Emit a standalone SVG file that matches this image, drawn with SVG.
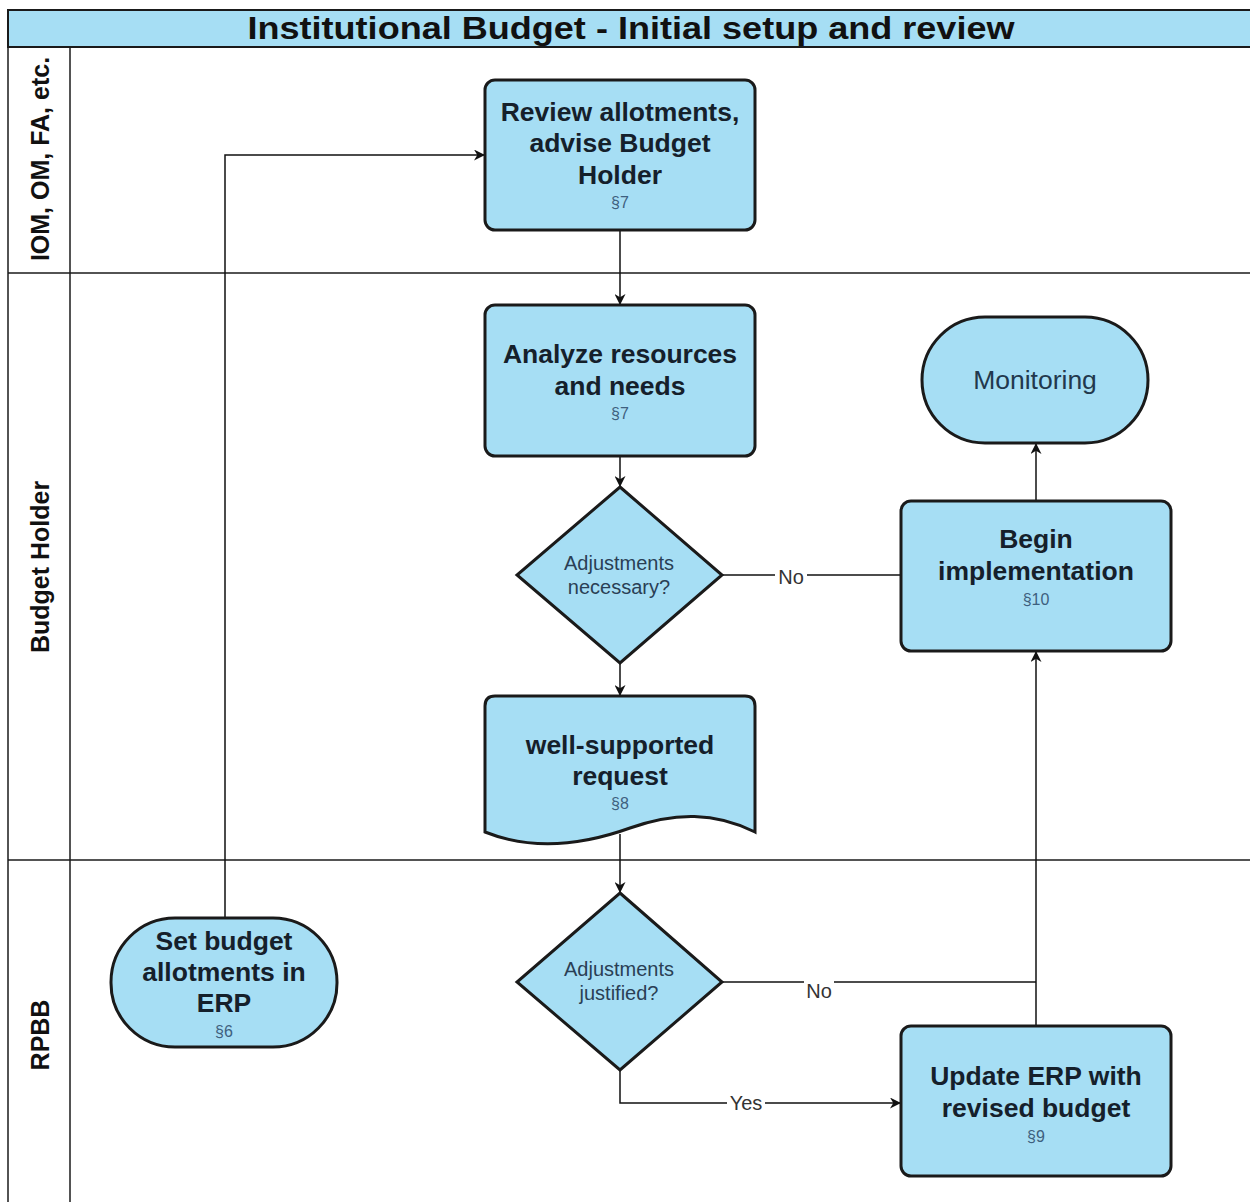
<svg xmlns="http://www.w3.org/2000/svg" width="1250" height="1202" viewBox="0 0 1250 1202">
<defs>
<style>
.node{fill:#a6def4;stroke:#1a1a1a;stroke-width:3}
.lane{fill:none;stroke:#1a1a1a;stroke-width:1.5}
.t{font-family:"Liberation Sans",Arial,sans-serif;font-size:26.5px;font-weight:bold;fill:#15202b;text-anchor:middle}
.n{font-family:"Liberation Sans",Arial,sans-serif;font-size:20px;fill:#2a3f55;text-anchor:middle}
.s{font-family:"Liberation Sans",Arial,sans-serif;font-size:16px;fill:#3e607e;text-anchor:middle}
.lbl{font-family:"Liberation Sans",Arial,sans-serif;font-size:20px;fill:#333;text-anchor:middle}
.ln{font-family:"Liberation Sans",Arial,sans-serif;font-size:25px;font-weight:bold;fill:#111;text-anchor:middle}
.c{fill:none;stroke:#111;stroke-width:1.5}
</style>
<marker id="arr" viewBox="0 0 10 10" refX="10" refY="5" markerWidth="11" markerHeight="11" orient="auto" markerUnits="userSpaceOnUse">
<path d="M0,0 L10,5 L0,10 L3,5 Z" fill="#111"/>
</marker>
</defs>
<rect width="1250" height="1202" fill="#ffffff"/>
<g id="pool">
<rect x="8" y="10" width="1250" height="37" fill="#a6def4" stroke="#1a1a1a" stroke-width="2"/>
<text x="631" y="39" font-family="'Liberation Sans',Arial,sans-serif" font-size="32" font-weight="bold" fill="#111" text-anchor="middle" textLength="767" lengthAdjust="spacingAndGlyphs">Institutional Budget - Initial setup and review</text>
<line class="lane" x1="8" y1="47" x2="8" y2="1202"/>
<line class="lane" x1="70" y1="47" x2="70" y2="1202"/>
<line class="lane" x1="8" y1="273" x2="1250" y2="273"/>
<line class="lane" x1="8" y1="860" x2="1250" y2="860"/>
<text class="ln" transform="translate(49,159) rotate(-90)">IOM, OM, FA, etc.</text>
<text class="ln" transform="translate(49,567) rotate(-90)">Budget Holder</text>
<text class="ln" transform="translate(49,1035) rotate(-90)">RPBB</text>
</g>
<g id="connectors">
<polyline class="c" points="225,918 225,155 485,155" marker-end="url(#arr)"/>
<line class="c" x1="620" y1="230" x2="620" y2="305" marker-end="url(#arr)"/>
<line class="c" x1="620" y1="456" x2="620" y2="487" marker-end="url(#arr)"/>
<line class="c" x1="722" y1="575" x2="901" y2="575"/>
<rect x="775" y="565" width="32" height="22" fill="#fff"/>
<text class="lbl" x="791" y="584">No</text>
<line class="c" x1="620" y1="663" x2="620" y2="696" marker-end="url(#arr)"/>
<line class="c" x1="620" y1="834" x2="620" y2="893" marker-end="url(#arr)"/>
<polyline class="c" points="722,982 1036,982"/>
<rect x="804" y="980" width="30" height="20" fill="#fff"/>
<text class="lbl" x="819" y="998">No</text>
<line class="c" x1="1036" y1="1026" x2="1036" y2="651" marker-end="url(#arr)"/>
<polyline class="c" points="620,1070 620,1103 901,1103" marker-end="url(#arr)"/>
<rect x="727" y="1093" width="38" height="20" fill="#fff"/>
<text class="lbl" x="746" y="1110">Yes</text>
<line class="c" x1="1036" y1="501" x2="1036" y2="443" marker-end="url(#arr)"/>
</g>
<g id="review">
<rect class="node" x="485" y="80" width="270" height="150" rx="10"/>
<text class="t" x="620" y="121">Review allotments,</text>
<text class="t" x="620" y="152">advise Budget</text>
<text class="t" x="620" y="184">Holder</text>
<text class="s" x="620" y="208">§7</text>
</g>
<g id="analyze">
<rect class="node" x="485" y="305" width="270" height="151" rx="10"/>
<text class="t" x="620" y="363">Analyze resources</text>
<text class="t" x="620" y="395">and needs</text>
<text class="s" x="620" y="419">§7</text>
</g>
<g id="decision1">
<polygon class="node" points="620,487 722,575 620,663 517,575"/>
<text class="n" x="619" y="570">Adjustments</text>
<text class="n" x="619" y="594">necessary?</text>
</g>
<g id="request">
<path class="node" d="M485,706 Q485,696 495,696 L745,696 Q755,696 755,706 L755,832 C715,812 675,812 630,828 C580,846 530,850 485,832 Z"/>
<text class="t" x="620" y="754">well-supported</text>
<text class="t" x="620" y="785">request</text>
<text class="s" x="620" y="809">§8</text>
</g>
<g id="decision2">
<polygon class="node" points="620,893 722,982 620,1070 517,982"/>
<text class="n" x="619" y="976">Adjustments</text>
<text class="n" x="619" y="1000">justified?</text>
</g>
<g id="monitoring">
<rect class="node" x="922" y="317" width="226" height="126" rx="63"/>
<text x="1035" y="389" font-family="'Liberation Sans',Arial,sans-serif" font-size="26.5" fill="#22384d" text-anchor="middle">Monitoring</text>
</g>
<g id="begin">
<rect class="node" x="901" y="501" width="270" height="150" rx="10"/>
<text class="t" x="1036" y="548">Begin</text>
<text class="t" x="1036" y="580">implementation</text>
<text class="s" x="1036" y="605">§10</text>
</g>
<g id="update">
<rect class="node" x="901" y="1026" width="270" height="150" rx="10"/>
<text class="t" x="1036" y="1085">Update ERP with</text>
<text class="t" x="1036" y="1117">revised budget</text>
<text class="s" x="1036" y="1142">§9</text>
</g>
<g id="setbudget">
<rect class="node" x="111" y="918" width="226" height="129" rx="64"/>
<text class="t" x="224" y="950">Set budget</text>
<text class="t" x="224" y="981">allotments in</text>
<text class="t" x="224" y="1012">ERP</text>
<text class="s" x="224" y="1037">§6</text>
</g>
</svg>
